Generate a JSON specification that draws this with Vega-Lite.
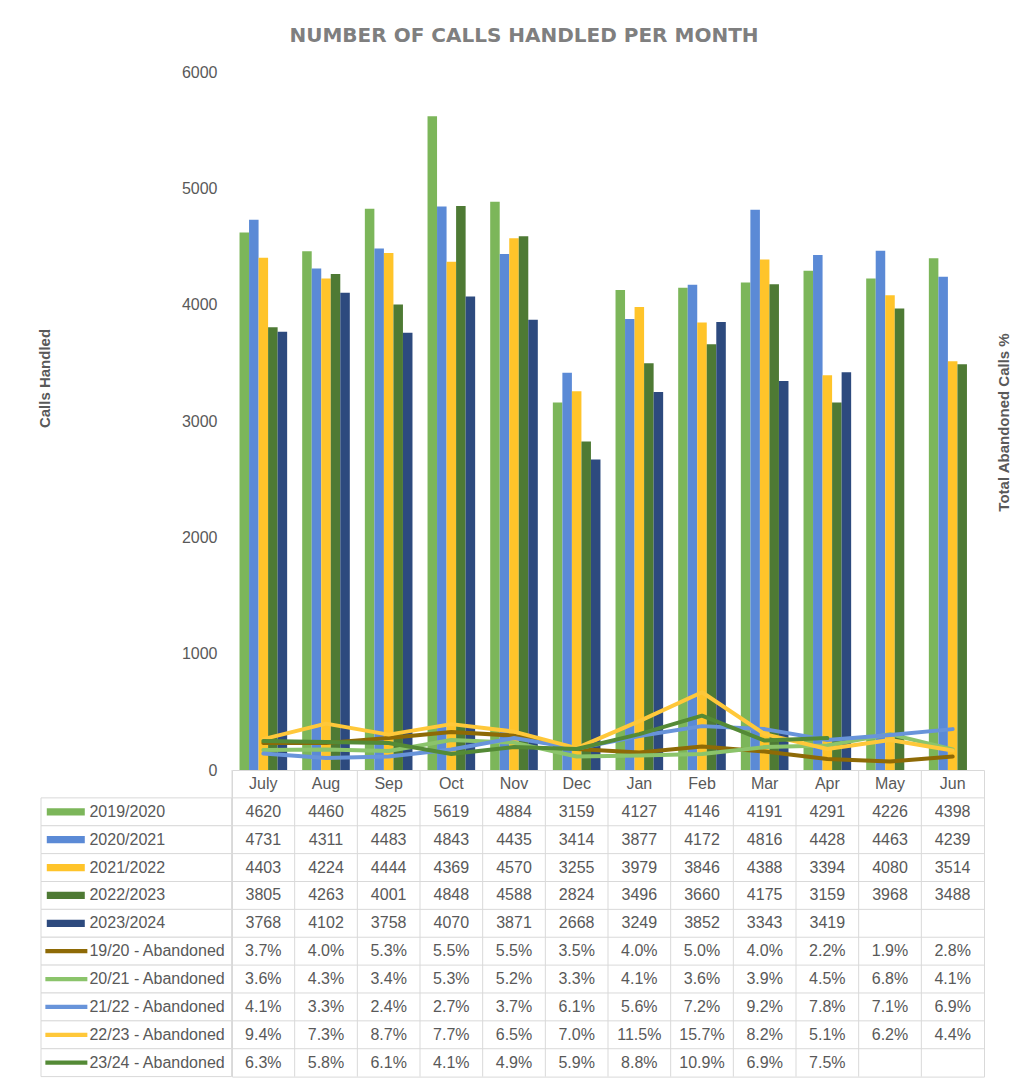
{
  "$schema": "https://vega.github.io/schema/vega-lite/v6.json",
  "padding": {"left": 37, "top": 26, "right": 8, "bottom": 5},
  "background": "white",
  "title": {"text": "NUMBER OF CALLS HANDLED PER MONTH", "font": "DejaVu Sans", "fontSize": 20, "fontWeight": "bold", "color": "#7F7F7F", "anchor": "middle", "offset": 18},
  "config": {"view": {"stroke": null}, "font": "Liberation Sans"},
  "datasets": {
    "months": [{"month": "July"}, {"month": "Aug"}, {"month": "Sep"}, {"month": "Oct"}, {"month": "Nov"}, {"month": "Dec"}, {"month": "Jan"}, {"month": "Feb"}, {"month": "Mar"}, {"month": "Apr"}, {"month": "May"}, {"month": "Jun"}],
    "series": [
      {"series": "2019/2020", "kind": "calls"}, {"series": "2020/2021", "kind": "calls"}, {"series": "2021/2022", "kind": "calls"}, {"series": "2022/2023", "kind": "calls"}, {"series": "2023/2024", "kind": "calls"},
      {"series": "19/20 - Abandoned", "kind": "abandoned"}, {"series": "20/21 - Abandoned", "kind": "abandoned"}, {"series": "21/22 - Abandoned", "kind": "abandoned"}, {"series": "22/23 - Abandoned", "kind": "abandoned"}, {"series": "23/24 - Abandoned", "kind": "abandoned"}
    ],
    "calls": [
      {"month": "July", "series": "2019/2020", "calls": 4620}, {"month": "Aug", "series": "2019/2020", "calls": 4460}, {"month": "Sep", "series": "2019/2020", "calls": 4825}, {"month": "Oct", "series": "2019/2020", "calls": 5619}, {"month": "Nov", "series": "2019/2020", "calls": 4884}, {"month": "Dec", "series": "2019/2020", "calls": 3159}, {"month": "Jan", "series": "2019/2020", "calls": 4127}, {"month": "Feb", "series": "2019/2020", "calls": 4146}, {"month": "Mar", "series": "2019/2020", "calls": 4191}, {"month": "Apr", "series": "2019/2020", "calls": 4291}, {"month": "May", "series": "2019/2020", "calls": 4226}, {"month": "Jun", "series": "2019/2020", "calls": 4398},
      {"month": "July", "series": "2020/2021", "calls": 4731}, {"month": "Aug", "series": "2020/2021", "calls": 4311}, {"month": "Sep", "series": "2020/2021", "calls": 4483}, {"month": "Oct", "series": "2020/2021", "calls": 4843}, {"month": "Nov", "series": "2020/2021", "calls": 4435}, {"month": "Dec", "series": "2020/2021", "calls": 3414}, {"month": "Jan", "series": "2020/2021", "calls": 3877}, {"month": "Feb", "series": "2020/2021", "calls": 4172}, {"month": "Mar", "series": "2020/2021", "calls": 4816}, {"month": "Apr", "series": "2020/2021", "calls": 4428}, {"month": "May", "series": "2020/2021", "calls": 4463}, {"month": "Jun", "series": "2020/2021", "calls": 4239},
      {"month": "July", "series": "2021/2022", "calls": 4403}, {"month": "Aug", "series": "2021/2022", "calls": 4224}, {"month": "Sep", "series": "2021/2022", "calls": 4444}, {"month": "Oct", "series": "2021/2022", "calls": 4369}, {"month": "Nov", "series": "2021/2022", "calls": 4570}, {"month": "Dec", "series": "2021/2022", "calls": 3255}, {"month": "Jan", "series": "2021/2022", "calls": 3979}, {"month": "Feb", "series": "2021/2022", "calls": 3846}, {"month": "Mar", "series": "2021/2022", "calls": 4388}, {"month": "Apr", "series": "2021/2022", "calls": 3394}, {"month": "May", "series": "2021/2022", "calls": 4080}, {"month": "Jun", "series": "2021/2022", "calls": 3514},
      {"month": "July", "series": "2022/2023", "calls": 3805}, {"month": "Aug", "series": "2022/2023", "calls": 4263}, {"month": "Sep", "series": "2022/2023", "calls": 4001}, {"month": "Oct", "series": "2022/2023", "calls": 4848}, {"month": "Nov", "series": "2022/2023", "calls": 4588}, {"month": "Dec", "series": "2022/2023", "calls": 2824}, {"month": "Jan", "series": "2022/2023", "calls": 3496}, {"month": "Feb", "series": "2022/2023", "calls": 3660}, {"month": "Mar", "series": "2022/2023", "calls": 4175}, {"month": "Apr", "series": "2022/2023", "calls": 3159}, {"month": "May", "series": "2022/2023", "calls": 3968}, {"month": "Jun", "series": "2022/2023", "calls": 3488},
      {"month": "July", "series": "2023/2024", "calls": 3768}, {"month": "Aug", "series": "2023/2024", "calls": 4102}, {"month": "Sep", "series": "2023/2024", "calls": 3758}, {"month": "Oct", "series": "2023/2024", "calls": 4070}, {"month": "Nov", "series": "2023/2024", "calls": 3871}, {"month": "Dec", "series": "2023/2024", "calls": 2668}, {"month": "Jan", "series": "2023/2024", "calls": 3249}, {"month": "Feb", "series": "2023/2024", "calls": 3852}, {"month": "Mar", "series": "2023/2024", "calls": 3343}, {"month": "Apr", "series": "2023/2024", "calls": 3419}
    ],
    "abandon": [
      {"month": "July", "series": "19/20 - Abandoned", "pct": 0.037}, {"month": "Aug", "series": "19/20 - Abandoned", "pct": 0.040}, {"month": "Sep", "series": "19/20 - Abandoned", "pct": 0.053}, {"month": "Oct", "series": "19/20 - Abandoned", "pct": 0.055}, {"month": "Nov", "series": "19/20 - Abandoned", "pct": 0.055}, {"month": "Dec", "series": "19/20 - Abandoned", "pct": 0.035}, {"month": "Jan", "series": "19/20 - Abandoned", "pct": 0.040}, {"month": "Feb", "series": "19/20 - Abandoned", "pct": 0.050}, {"month": "Mar", "series": "19/20 - Abandoned", "pct": 0.040}, {"month": "Apr", "series": "19/20 - Abandoned", "pct": 0.022}, {"month": "May", "series": "19/20 - Abandoned", "pct": 0.019}, {"month": "Jun", "series": "19/20 - Abandoned", "pct": 0.028},
      {"month": "July", "series": "20/21 - Abandoned", "pct": 0.036}, {"month": "Aug", "series": "20/21 - Abandoned", "pct": 0.043}, {"month": "Sep", "series": "20/21 - Abandoned", "pct": 0.034}, {"month": "Oct", "series": "20/21 - Abandoned", "pct": 0.053}, {"month": "Nov", "series": "20/21 - Abandoned", "pct": 0.052}, {"month": "Dec", "series": "20/21 - Abandoned", "pct": 0.033}, {"month": "Jan", "series": "20/21 - Abandoned", "pct": 0.041}, {"month": "Feb", "series": "20/21 - Abandoned", "pct": 0.036}, {"month": "Mar", "series": "20/21 - Abandoned", "pct": 0.039}, {"month": "Apr", "series": "20/21 - Abandoned", "pct": 0.045}, {"month": "May", "series": "20/21 - Abandoned", "pct": 0.068}, {"month": "Jun", "series": "20/21 - Abandoned", "pct": 0.041},
      {"month": "July", "series": "21/22 - Abandoned", "pct": 0.041}, {"month": "Aug", "series": "21/22 - Abandoned", "pct": 0.033}, {"month": "Sep", "series": "21/22 - Abandoned", "pct": 0.024}, {"month": "Oct", "series": "21/22 - Abandoned", "pct": 0.027}, {"month": "Nov", "series": "21/22 - Abandoned", "pct": 0.037}, {"month": "Dec", "series": "21/22 - Abandoned", "pct": 0.061}, {"month": "Jan", "series": "21/22 - Abandoned", "pct": 0.056}, {"month": "Feb", "series": "21/22 - Abandoned", "pct": 0.072}, {"month": "Mar", "series": "21/22 - Abandoned", "pct": 0.092}, {"month": "Apr", "series": "21/22 - Abandoned", "pct": 0.078}, {"month": "May", "series": "21/22 - Abandoned", "pct": 0.071}, {"month": "Jun", "series": "21/22 - Abandoned", "pct": 0.069},
      {"month": "July", "series": "22/23 - Abandoned", "pct": 0.094}, {"month": "Aug", "series": "22/23 - Abandoned", "pct": 0.073}, {"month": "Sep", "series": "22/23 - Abandoned", "pct": 0.087}, {"month": "Oct", "series": "22/23 - Abandoned", "pct": 0.077}, {"month": "Nov", "series": "22/23 - Abandoned", "pct": 0.065}, {"month": "Dec", "series": "22/23 - Abandoned", "pct": 0.070}, {"month": "Jan", "series": "22/23 - Abandoned", "pct": 0.115}, {"month": "Feb", "series": "22/23 - Abandoned", "pct": 0.157}, {"month": "Mar", "series": "22/23 - Abandoned", "pct": 0.082}, {"month": "Apr", "series": "22/23 - Abandoned", "pct": 0.051}, {"month": "May", "series": "22/23 - Abandoned", "pct": 0.062}, {"month": "Jun", "series": "22/23 - Abandoned", "pct": 0.044},
      {"month": "July", "series": "23/24 - Abandoned", "pct": 0.063}, {"month": "Aug", "series": "23/24 - Abandoned", "pct": 0.058}, {"month": "Sep", "series": "23/24 - Abandoned", "pct": 0.061}, {"month": "Oct", "series": "23/24 - Abandoned", "pct": 0.041}, {"month": "Nov", "series": "23/24 - Abandoned", "pct": 0.049}, {"month": "Dec", "series": "23/24 - Abandoned", "pct": 0.059}, {"month": "Jan", "series": "23/24 - Abandoned", "pct": 0.088}, {"month": "Feb", "series": "23/24 - Abandoned", "pct": 0.109}, {"month": "Mar", "series": "23/24 - Abandoned", "pct": 0.069}, {"month": "Apr", "series": "23/24 - Abandoned", "pct": 0.075}
    ],
    "lines": [
      {"month": "July", "series": "19/20 - Abandoned", "abandoned": 5.4}, {"month": "Aug", "series": "19/20 - Abandoned", "abandoned": 5.4}, {"month": "Sep", "series": "19/20 - Abandoned", "abandoned": 6.4}, {"month": "Oct", "series": "19/20 - Abandoned", "abandoned": 7.6}, {"month": "Nov", "series": "19/20 - Abandoned", "abandoned": 6.9}, {"month": "Dec", "series": "19/20 - Abandoned", "abandoned": 4.2}, {"month": "Jan", "series": "19/20 - Abandoned", "abandoned": 3.5}, {"month": "Feb", "series": "19/20 - Abandoned", "abandoned": 4.7}, {"month": "Mar", "series": "19/20 - Abandoned", "abandoned": 3.7}, {"month": "Apr", "series": "19/20 - Abandoned", "abandoned": 2.2}, {"month": "May", "series": "19/20 - Abandoned", "abandoned": 1.7}, {"month": "Jun", "series": "19/20 - Abandoned", "abandoned": 2.7},
      {"month": "July", "series": "20/21 - Abandoned", "abandoned": 4.0}, {"month": "Aug", "series": "20/21 - Abandoned", "abandoned": 4.1}, {"month": "Sep", "series": "20/21 - Abandoned", "abandoned": 3.8}, {"month": "Oct", "series": "20/21 - Abandoned", "abandoned": 6.0}, {"month": "Nov", "series": "20/21 - Abandoned", "abandoned": 5.5}, {"month": "Dec", "series": "20/21 - Abandoned", "abandoned": 2.7}, {"month": "Jan", "series": "20/21 - Abandoned", "abandoned": 2.9}, {"month": "Feb", "series": "20/21 - Abandoned", "abandoned": 3.2}, {"month": "Mar", "series": "20/21 - Abandoned", "abandoned": 4.6}, {"month": "Apr", "series": "20/21 - Abandoned", "abandoned": 4.9}, {"month": "May", "series": "20/21 - Abandoned", "abandoned": 7.2}, {"month": "Jun", "series": "20/21 - Abandoned", "abandoned": 4.1},
      {"month": "July", "series": "21/22 - Abandoned", "abandoned": 3.3}, {"month": "Aug", "series": "21/22 - Abandoned", "abandoned": 2.4}, {"month": "Sep", "series": "21/22 - Abandoned", "abandoned": 2.7}, {"month": "Oct", "series": "21/22 - Abandoned", "abandoned": 4.1}, {"month": "Nov", "series": "21/22 - Abandoned", "abandoned": 6.4}, {"month": "Dec", "series": "21/22 - Abandoned", "abandoned": 4.3}, {"month": "Jan", "series": "21/22 - Abandoned", "abandoned": 6.8}, {"month": "Feb", "series": "21/22 - Abandoned", "abandoned": 8.8}, {"month": "Mar", "series": "21/22 - Abandoned", "abandoned": 8.2}, {"month": "Apr", "series": "21/22 - Abandoned", "abandoned": 6.0}, {"month": "May", "series": "21/22 - Abandoned", "abandoned": 7.0}, {"month": "Jun", "series": "21/22 - Abandoned", "abandoned": 8.2},
      {"month": "July", "series": "22/23 - Abandoned", "abandoned": 6.2}, {"month": "Aug", "series": "22/23 - Abandoned", "abandoned": 9.3}, {"month": "Sep", "series": "22/23 - Abandoned", "abandoned": 7.1}, {"month": "Oct", "series": "22/23 - Abandoned", "abandoned": 9.2}, {"month": "Nov", "series": "22/23 - Abandoned", "abandoned": 7.7}, {"month": "Dec", "series": "22/23 - Abandoned", "abandoned": 4.4}, {"month": "Jan", "series": "22/23 - Abandoned", "abandoned": 9.8}, {"month": "Feb", "series": "22/23 - Abandoned", "abandoned": 15.6}, {"month": "Mar", "series": "22/23 - Abandoned", "abandoned": 7.2}, {"month": "Apr", "series": "22/23 - Abandoned", "abandoned": 4.2}, {"month": "May", "series": "22/23 - Abandoned", "abandoned": 6.0}, {"month": "Jun", "series": "22/23 - Abandoned", "abandoned": 3.9},
      {"month": "July", "series": "23/24 - Abandoned", "abandoned": 5.8}, {"month": "Aug", "series": "23/24 - Abandoned", "abandoned": 5.6}, {"month": "Sep", "series": "23/24 - Abandoned", "abandoned": 5.4}, {"month": "Oct", "series": "23/24 - Abandoned", "abandoned": 3.2}, {"month": "Nov", "series": "23/24 - Abandoned", "abandoned": 4.6}, {"month": "Dec", "series": "23/24 - Abandoned", "abandoned": 4.2}, {"month": "Jan", "series": "23/24 - Abandoned", "abandoned": 7.2}, {"month": "Feb", "series": "23/24 - Abandoned", "abandoned": 10.9}, {"month": "Mar", "series": "23/24 - Abandoned", "abandoned": 5.9}, {"month": "Apr", "series": "23/24 - Abandoned", "abandoned": 6.4}
    ]
  },
  "columns": 2,
  "spacing": 0,
  "bounds": "flush",
  "concat": [
    {"width": 190.7, "height": 698, "data": {"values": []}, "mark": "point"},
    {
      "width": 752,
      "height": 698,
      "layer": [
        {
          "data": {"name": "calls"},
          "mark": {"type": "bar"},
          "encoding": {
            "x": {"field": "month", "type": "nominal", "sort": ["July","Aug","Sep","Oct","Nov","Dec","Jan","Feb","Mar","Apr","May","Jun"], "scale": {"domain": ["July","Aug","Sep","Oct","Nov","Dec","Jan","Feb","Mar","Apr","May","Jun"], "paddingInner": 0.24, "paddingOuter": 0.12}, "axis": null},
            "xOffset": {"field": "series", "type": "nominal", "scale": {"domain": ["2019/2020","2020/2021","2021/2022","2022/2023","2023/2024"], "paddingInner": 0, "paddingOuter": 0}},
            "y": {"field": "calls", "type": "quantitative", "scale": {"domain": [0, 6000], "nice": false},
                  "axis": {"values": [0,1000,2000,3000,4000,5000,6000], "format": "d", "grid": false, "domain": false, "ticks": false, "labelPadding": 15, "labelFontSize": 16, "labelColor": "#595959", "labelFont": "Liberation Sans",
                           "title": "Calls Handled", "titleFontSize": 15, "titleFontWeight": "bold", "titleColor": "#595959", "titleFont": "Liberation Sans", "titleX": -188, "titleY": 306, "titleAlign": "center", "titleBaseline": "middle", "titleAngle": 270}},
            "color": {"field": "series", "type": "nominal",
                      "scale": {"domain": ["2019/2020","2020/2021","2021/2022","2022/2023","2023/2024","19/20 - Abandoned","20/21 - Abandoned","21/22 - Abandoned","22/23 - Abandoned","23/24 - Abandoned"],
                                "range": ["#7CB65A","#5B8AD6","#FFC42A","#4E7A34","#2D4A7E","#8E6A06","#8BC46B","#6894DA","#FFC83A","#548A36"]},
                      "legend": null}
          }
        },
        {
          "data": {"name": "lines"},
          "mark": {"type": "line", "strokeWidth": 4, "strokeJoin": "round", "strokeCap": "round"},
          "encoding": {
            "x": {"field": "month", "type": "nominal", "sort": ["July","Aug","Sep","Oct","Nov","Dec","Jan","Feb","Mar","Apr","May","Jun"], "scale": {"domain": ["July","Aug","Sep","Oct","Nov","Dec","Jan","Feb","Mar","Apr","May","Jun"], "paddingInner": 0.24, "paddingOuter": 0.12}, "axis": null},
            "y": {"field": "abandoned", "type": "quantitative", "scale": {"domain": [0, 140], "nice": false},
                  "axis": {"orient": "right", "labels": false, "ticks": false, "domain": false, "grid": false,
                           "title": "Total Abandoned Calls %", "titleFontSize": 15, "titleFontWeight": "bold", "titleColor": "#595959", "titleFont": "Liberation Sans", "titleX": 19, "titleY": 350, "titleAlign": "center", "titleBaseline": "middle", "titleAngle": 270}},
            "color": {"field": "series", "type": "nominal",
                      "scale": {"domain": ["2019/2020","2020/2021","2021/2022","2022/2023","2023/2024","19/20 - Abandoned","20/21 - Abandoned","21/22 - Abandoned","22/23 - Abandoned","23/24 - Abandoned"],
                                "range": ["#7CB65A","#5B8AD6","#FFC42A","#4E7A34","#2D4A7E","#8E6A06","#8BC46B","#6894DA","#FFC83A","#548A36"]},
                      "legend": null}
          }
        }
      ],
      "resolve": {"scale": {"y": "independent"}}
    },
    {
      "width": 190.7,
      "height": 306.6,
      "data": {"name": "series"},
      "encoding": {
        "y": {"field": "series", "type": "nominal", "scale": {"domain": ["Month","2019/2020","2020/2021","2021/2022","2022/2023","2023/2024","19/20 - Abandoned","20/21 - Abandoned","21/22 - Abandoned","22/23 - Abandoned","23/24 - Abandoned"], "paddingInner": 0, "paddingOuter": 0}, "axis": null}
      },
      "layer": [
        {
          "mark": {"type": "rect", "fill": "white", "stroke": "#D9D9D9", "strokeWidth": 1},
          "encoding": {
            "x": {"datum": 0, "type": "quantitative", "scale": {"domain": [0, 1], "nice": false, "zero": false}, "axis": null},
            "x2": {"datum": 1}
          }
        },
        {
          "transform": [{"filter": "datum.kind == 'calls'"}],
          "mark": {"type": "point", "shape": "M-1,-0.19H1V0.19H-1Z", "size": 1444, "filled": true, "opacity": 1},
          "encoding": {
            "x": {"datum": 0.13, "type": "quantitative"},
            "color": {"field": "series", "type": "nominal",
                      "scale": {"domain": ["2019/2020","2020/2021","2021/2022","2022/2023","2023/2024","19/20 - Abandoned","20/21 - Abandoned","21/22 - Abandoned","22/23 - Abandoned","23/24 - Abandoned"],
                                "range": ["#7CB65A","#5B8AD6","#FFC42A","#4E7A34","#2D4A7E","#8E6A06","#8BC46B","#6894DA","#FFC83A","#548A36"]},
                      "legend": null}
          }
        },
        {
          "transform": [{"filter": "datum.kind == 'abandoned'"}],
          "mark": {"type": "point", "shape": "M-1,-0.1H1V0.1H-1Z", "size": 1764, "filled": true, "opacity": 1},
          "encoding": {
            "x": {"datum": 0.133, "type": "quantitative"},
            "color": {"field": "series", "type": "nominal",
                      "scale": {"domain": ["2019/2020","2020/2021","2021/2022","2022/2023","2023/2024","19/20 - Abandoned","20/21 - Abandoned","21/22 - Abandoned","22/23 - Abandoned","23/24 - Abandoned"],
                                "range": ["#7CB65A","#5B8AD6","#FFC42A","#4E7A34","#2D4A7E","#8E6A06","#8BC46B","#6894DA","#FFC83A","#548A36"]},
                      "legend": null}
          }
        },
        {
          "mark": {"type": "text", "align": "left", "baseline": "middle", "fontSize": 16, "color": "#595959", "font": "Liberation Sans"},
          "encoding": {
            "x": {"datum": 0.254, "type": "quantitative"},
            "text": {"field": "series", "type": "nominal"}
          }
        }
      ]
    },
    {
      "width": 752,
      "height": 306.6,
      "view": {"stroke": "#D9D9D9", "strokeWidth": 1},
      "encoding": {
        "x": {"field": "month", "type": "nominal", "sort": ["July","Aug","Sep","Oct","Nov","Dec","Jan","Feb","Mar","Apr","May","Jun"], "scale": {"domain": ["July","Aug","Sep","Oct","Nov","Dec","Jan","Feb","Mar","Apr","May","Jun"], "paddingInner": 0, "paddingOuter": 0}, "axis": null}
      },
      "layer": [
        {
          "data": {"name": "months"},
          "mark": {"type": "rule", "color": "#D9D9D9", "strokeWidth": 1},
          "encoding": {
            "x": {"field": "month", "type": "nominal", "sort": ["July","Aug","Sep","Oct","Nov","Dec","Jan","Feb","Mar","Apr","May","Jun"], "bandPosition": 0}
          }
        },
        {
          "data": {"name": "series"},
          "mark": {"type": "rule", "color": "#D9D9D9", "strokeWidth": 1},
          "encoding": {
            "x": null,
            "y": {"field": "series", "type": "nominal", "bandPosition": 0, "scale": {"domain": ["Month","2019/2020","2020/2021","2021/2022","2022/2023","2023/2024","19/20 - Abandoned","20/21 - Abandoned","21/22 - Abandoned","22/23 - Abandoned","23/24 - Abandoned"], "paddingInner": 0, "paddingOuter": 0}, "axis": null}
          }
        },
        {
          "data": {"name": "months"},
          "mark": {"type": "text", "baseline": "middle", "fontSize": 16, "color": "#595959", "font": "Liberation Sans"},
          "encoding": {
            "y": {"datum": "Month", "type": "nominal"},
            "text": {"field": "month", "type": "nominal"}
          }
        },
        {
          "data": {"name": "calls"},
          "mark": {"type": "text", "baseline": "middle", "fontSize": 16, "color": "#595959", "font": "Liberation Sans"},
          "encoding": {
            "y": {"field": "series", "type": "nominal"},
            "text": {"field": "calls", "type": "quantitative", "format": "d"}
          }
        },
        {
          "data": {"name": "abandon"},
          "mark": {"type": "text", "baseline": "middle", "fontSize": 16, "color": "#595959", "font": "Liberation Sans"},
          "encoding": {
            "y": {"field": "series", "type": "nominal"},
            "text": {"field": "pct", "type": "quantitative", "format": ".1%"}
          }
        }
      ]
    }
  ]
}
